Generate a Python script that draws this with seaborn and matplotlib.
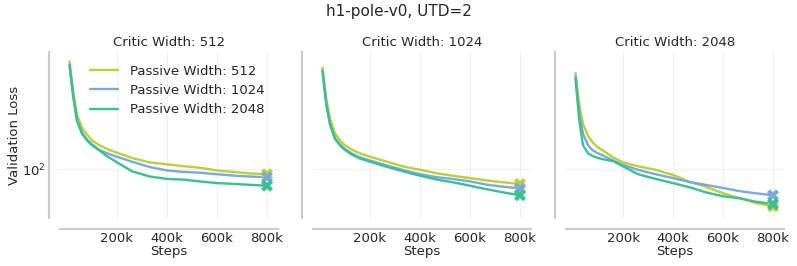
import numpy as np
import pandas as pd
import matplotlib
matplotlib.use("Agg")
import matplotlib.pyplot as plt
import matplotlib.ticker as mticker
import seaborn as sns

steps = [10e3, 25e3, 40e3, 60e3, 80e3, 100e3, 130e3, 160e3, 200e3, 260e3, 330e3,
         400e3, 470e3, 530e3, 600e3, 670e3, 730e3, 800e3]

critic_widths = [512, 1024, 2048]
passive_labels = ["Passive Width: 512", "Passive Width: 1024", "Passive Width: 2048"]
colors = ["#bccf35", "#7aa9e1", "#3bbf93"]

# Critic width 512
c512_p512 = [460, 300, 215, 180, 163, 150, 140, 133, 126, 117, 110, 107, 104, 102, 98, 96, 94, 93]
c512_p1024 = [440, 280, 200, 168, 152, 142, 131, 125, 119, 111, 103, 98, 96, 95, 93, 91, 90, 89]
c512_p2048 = [435, 280, 198, 165, 150, 140, 130, 120, 110, 97, 90, 87, 86, 84, 82, 81, 80, 79]
# Critic width 1024
c1024_p512 = [420, 270, 205, 166, 150, 140, 131, 125, 119, 112, 104, 99, 94, 91, 88, 85, 83, 81]
c1024_p1024 = [405, 255, 190, 155, 142, 133, 124, 118, 113, 106, 99, 93, 89, 87, 84, 80, 78, 76]
c1024_p2048 = [400, 250, 188, 153, 140, 131, 122, 116, 111, 104, 97, 91, 86, 83, 79, 75, 72, 69]
# Critic width 2048
c2048_p512 = [390, 250, 190, 160, 145, 136, 127, 118, 110, 104, 99, 92, 83, 78, 71, 66, 62, 59]
c2048_p1024 = [375, 220, 165, 140, 130, 125, 119, 113, 106, 99, 93, 88, 83, 80, 76.5, 73, 71, 69]
c2048_p2048 = [360, 200, 140, 125, 120, 117, 114, 112, 104, 93, 87, 82, 77, 72, 68, 66, 63, 61]

panels = {
    512: [c512_p512, c512_p1024, c512_p2048],
    1024: [c1024_p512, c1024_p1024, c1024_p2048],
    2048: [c2048_p512, c2048_p1024, c2048_p2048],
}

sns.set_theme(style="whitegrid")
plt.rcParams["font.family"] = ["DejaVu Sans"]

fig = plt.figure(figsize=(7.97, 2.66), dpi=100)
lefts = [60, 313, 566]
W, H = 797, 266
axes = []
for i, cw in enumerate(critic_widths):
    ax = fig.add_axes([lefts[i] / W, 1 - 218 / H, 218 / W, (218 - 52) / H])
    axes.append(ax)
    rows = []
    for lab, vals in zip(passive_labels, panels[cw]):
        for s, v in zip(steps, vals):
            rows.append({"Steps": s, "Validation Loss": v, "series": lab})
    df = pd.DataFrame(rows)
    sns.lineplot(data=df, x="Steps", y="Validation Loss", hue="series",
                 palette=colors, hue_order=passive_labels, linewidth=1.7,
                 ax=ax, legend=(i == 0))
    last = df[df["Steps"] == steps[-1]]
    sns.scatterplot(data=last, x="Steps", y="Validation Loss", hue="series",
                    palette=colors, hue_order=passive_labels, marker="X", s=75,
                    linewidth=0, ax=ax, legend=False, zorder=5)
    ax.set_yscale("log")
    ax.set_ylim(50, 525)
    ax.set_xlim(-28e3, 844e3)
    ax.yaxis.set_major_locator(mticker.LogLocator(base=10))
    ax.yaxis.set_minor_locator(mticker.NullLocator())
    ax.yaxis.set_minor_formatter(mticker.NullFormatter())
    ax.set_xticks([200e3, 400e3, 600e3, 800e3])
    ax.set_xticklabels(["200k", "400k", "600k", "800k"])
    ax.tick_params(labelsize=9.5, length=0, pad=2)
    ax.set_xlabel("Steps", fontsize=9.5, labelpad=0)
    if i == 0:
        ax.set_ylabel("Validation Loss", fontsize=9.5, labelpad=1)
    else:
        ax.set_ylabel("")
        ax.set_yticklabels([])
    ax.set_title(f"Critic Width: {cw}", fontsize=9.5, pad=4)
    ax.grid(True, color="#f0f0f0", linewidth=0.9)
    sns.despine(ax=ax, offset=8)
    for sp in ["left", "bottom"]:
        ax.spines[sp].set_color("#cccccc")
        ax.spines[sp].set_linewidth(1.5)

leg = axes[0].legend(loc="upper left", frameon=False, fontsize=9.5,
                     bbox_to_anchor=(0.115, 0.955), handlelength=2.1,
                     handletextpad=0.9, labelspacing=0.48, borderaxespad=0.0)
fig.suptitle("h1-pole-v0, UTD=2", fontsize=11, y=0.985)
fig.savefig("out.png", dpi=100)
